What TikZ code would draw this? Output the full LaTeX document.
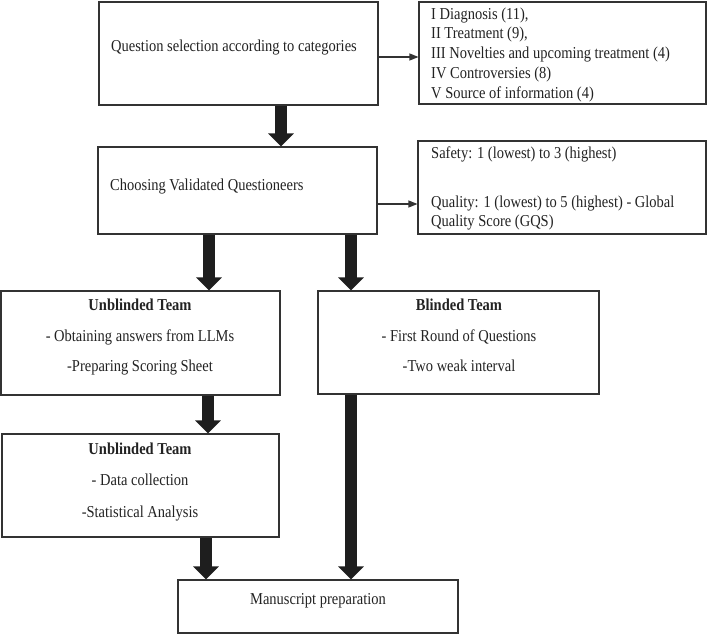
\documentclass[tikz,border=0pt]{standalone}
\usepackage{fontspec}
\usepackage{graphicx}
\setmainfont{Liberation Serif}
\usetikzlibrary{arrows.meta}
\definecolor{boxc}{HTML}{333333}
\definecolor{arrc}{HTML}{1E1E1E}
\definecolor{txtc}{HTML}{222222}
\newcommand{\vtxt}[1]{\scalebox{1}[1.15]{#1}}
\tikzset{
  box/.style={draw=boxc, line width=1.1pt, rectangle, inner sep=0pt},
  txt/.style={text=txtc, font=\fontsize{14.5}{17}\selectfont, inner sep=0pt, yshift=-2.5pt},
  bigarrow/.style={draw=arrc, line width=12pt, -{Triangle[width=25pt,length=13pt]}},
  smallarrow/.style={draw=boxc, line width=1.1pt, -{Triangle[width=7pt,length=9pt]}},
}
\begin{document}
\begin{tikzpicture}[x=1pt,y=-1pt]
\useasboundingbox (0,0) rectangle (708,634);
% boxes
\node[box, minimum width=279pt, minimum height=103pt] (b1) at (238.5,53.5) {};
\node[box, minimum width=287pt, minimum height=102pt] (b2) at (562.5,53) {};
\node[box, minimum width=279pt, minimum height=87pt] (b3) at (237.5,190.5) {};
\node[box, minimum width=288pt, minimum height=93pt] (b4) at (562,187.5) {};
\node[box, minimum width=279pt, minimum height=104pt] (b5) at (140.5,343) {};
\node[box, minimum width=281pt, minimum height=103pt] (b6) at (458.5,342.5) {};
\node[box, minimum width=277pt, minimum height=103pt] (b7) at (140.5,485.5) {};
\node[box, minimum width=280pt, minimum height=53pt] (b8) at (318,606.5) {};
% texts
\node[txt, anchor=mid west] (t1) at (111,47) {\vtxt{Question selection according to categories}};
\node[txt, anchor=mid west] (t2a) at (431,15) {\vtxt{I Diagnosis (11),}};
\node[txt, anchor=mid west] (t2b) at (431,34) {\vtxt{II Treatment (9),}};
\node[txt, anchor=mid west] (t2c) at (431,54) {\vtxt{III Novelties and upcoming treatment (4)}};
\node[txt, anchor=mid west] (t2d) at (431,74) {\vtxt{IV Controversies (8)}};
\node[txt, anchor=mid west] (t2e) at (431,94) {\vtxt{V Source of information (4)}};
\node[txt, anchor=mid west] (t3) at (110,186) {\vtxt{Choosing Validated Questioneers}};
\node[txt, anchor=mid west] (t4a) at (431,154) {\vtxt{Safety: 1 (lowest) to 3 (highest)}};
\node[txt, anchor=mid west] (t4b) at (431,203) {\vtxt{Quality: 1 (lowest) to 5 (highest) - Global}};
\node[txt, anchor=mid west] (t4c) at (431,222) {\vtxt{Quality Score (GQS)}};
\node[txt, anchor=mid] (t5a) at (140,306) {\vtxt{\bfseries Unblinded Team}};
\node[txt, anchor=mid] (t5b) at (140,337) {\vtxt{- Obtaining answers from LLMs}};
\node[txt, anchor=mid] (t5c) at (140,367) {\vtxt{-Preparing Scoring Sheet}};
\node[txt, anchor=mid] (t6a) at (459,306) {\vtxt{\bfseries Blinded Team}};
\node[txt, anchor=mid] (t6b) at (459,337) {\vtxt{- First Round of Questions}};
\node[txt, anchor=mid] (t6c) at (459,367) {\vtxt{-Two weak interval}};
\node[txt, anchor=mid] (t7a) at (140,450) {\vtxt{\bfseries Unblinded Team}};
\node[txt, anchor=mid] (t7b) at (140,481) {\vtxt{- Data collection}};
\node[txt, anchor=mid] (t7c) at (140,513) {\vtxt{-Statistical Analysis}};
\node[txt, anchor=mid] (t8) at (318,600) {\vtxt{Manuscript preparation}};
% x positions of thick arrows
\coordinate (xa1) at (281,0);
\coordinate (xa2) at (209,0);
\coordinate (xa3) at (351,0);
\coordinate (xa4) at (208,0);
\coordinate (xa5) at (206,0);
\coordinate (ya1) at (0,57);
\coordinate (ya2) at (0,204);
% thick arrows
\draw[bigarrow] (b1.south -| xa1) -- (b3.north -| xa1);
\draw[bigarrow] (b3.south -| xa2) -- (b5.north -| xa2);
\draw[bigarrow] (b3.south -| xa3) -- (b6.north -| xa3);
\draw[bigarrow] (b5.south -| xa4) -- (b7.north -| xa4);
\draw[bigarrow] (b7.south -| xa5) -- (b8.north -| xa5);
\draw[bigarrow] (b6.south -| xa3) -- (b8.north -| xa3);
% small arrows
\draw[smallarrow] (b1.east |- ya1) -- (b2.west |- ya1);
\draw[smallarrow] (b3.east |- ya2) -- (b4.west |- ya2);
\end{tikzpicture}
\end{document}
